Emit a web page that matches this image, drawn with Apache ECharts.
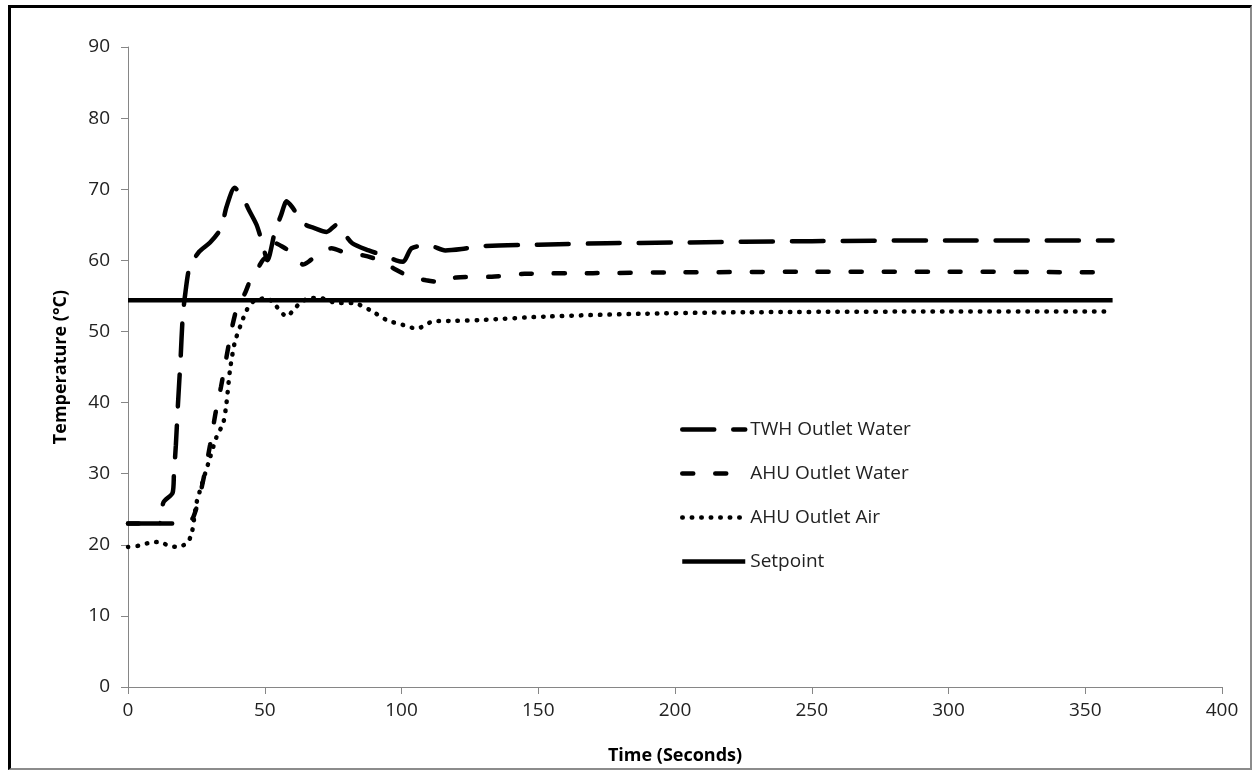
<!DOCTYPE html>
<html>
<head>
<meta charset="utf-8">
<script src="https://cdn.jsdelivr.net/npm/echarts@6/dist/echarts.min.js"></script>
<style>
    body { margin: 0; background: #fff; }
    #chart { position: absolute; left: 0; top: 0; width: 1257px; height: 774px; }
    #frame {
        position: absolute; left: 8px; top: 5px; width: 1244px; height: 765px;
        border-left: 3px solid #000; border-top: 3px solid #000;
        border-right: 2px solid #8c8c8c; border-bottom: 2px solid #8c8c8c;
        box-sizing: border-box; pointer-events: none;
    }
</style>
</head>
<body>
<div id="chart"></div>
<div id="frame"></div>
<script>
// TWH outlet water (long dash)
var twhTime = [0, 11.5, 12, 13, 16.3, 16.8, 17.5, 18.3, 19.2, 20, 21, 22.5, 26, 30, 34, 36, 39, 41.6, 44.6, 47, 49, 51, 53.7, 56, 58, 60, 62.3, 65, 67.7, 72.6, 76.3, 78.6, 82, 88, 94, 98, 100.6, 103.7, 110, 116, 122, 129, 150, 175, 200, 250, 300, 360];
var twhTemp = [23, 23, 23.8, 26, 27.3, 30, 34, 40, 46, 52, 55.5, 59, 61.2, 62.5, 64.5, 67.5, 70.2, 69, 66.8, 65, 62.6, 60, 64, 66.4, 68.3, 67.5, 66.2, 65, 64.6, 64, 65, 64, 62.4, 61.4, 60.6, 60, 59.8, 61.7, 62.1, 61.4, 61.6, 62, 62.2, 62.4, 62.5, 62.7, 62.8, 62.8];

// AHU outlet water (dash)
var ahuWaterTime = [0, 20, 22.5, 24, 26, 28, 30, 32, 34, 36, 38, 40, 42.8, 45, 47.5, 50, 51, 54, 57, 59.8, 62, 64, 66, 69, 74.4, 80, 86, 92, 97, 103, 109, 115, 120, 133, 145, 170, 200, 250, 300, 360];
var ahuWaterTemp = [23, 23, 23.2, 24, 26.5, 30, 34, 38.5, 42.2, 46.4, 50.5, 53.5, 55.4, 57.5, 58.9, 60.3, 60, 62.4, 61.8, 61.1, 60.2, 59.4, 59.8, 60.7, 61.7, 61, 60.7, 60, 58.9, 57.7, 57.2, 56.9, 57.6, 57.7, 58.1, 58.2, 58.3, 58.4, 58.4, 58.3];

// AHU outlet air (dotted)
var ahuAirTime = [0, 4.4, 8, 11.7, 14.6, 17.8, 21.5, 23.3, 25, 27, 29.4, 32.4, 34.8, 36, 37.3, 39, 41, 43.4, 45.8, 50.7, 54.3, 58, 60.5, 62.9, 66.5, 70.2, 76.3, 82.3, 88.5, 94.6, 100.6, 105.6, 111.5, 120, 128.7, 153, 189.6, 226, 300, 360];
var ahuAirTemp = [19.7, 19.9, 20.3, 20.4, 19.9, 19.7, 20.2, 21.6, 25.8, 28.5, 31.5, 35.2, 37.1, 39.9, 44.6, 48.4, 50.7, 53, 54.2, 54.7, 53.5, 52.1, 53, 54, 54.7, 54.7, 54, 54, 53, 51.6, 50.9, 50.4, 51.4, 51.5, 51.6, 52.1, 52.5, 52.7, 52.8, 52.8];

// setpoint (solid)
var setTime = [0, 360];
var setTemp = [54.4, 54.4];

var seriesNames = ['TWH Outlet Water', 'AHU Outlet Water', 'AHU Outlet Air', 'Setpoint'];

function pairs(xs, ys) {
    return xs.map(function (x, i) { return [x, ys[i]]; });
}

var myChart = echarts.init(document.getElementById('chart'));
var font = '"Open Sans", sans-serif';

var option = {
    animation: false,
    grid: { left: 128, right: 35, top: 47, bottom: 87 },
    legend: {
        orient: 'vertical',
        left: 680,
        top: 420,
        padding: 0,
        itemWidth: 63,
        itemHeight: 14,
        itemGap: 25,
        data: seriesNames,
        lineStyle: { width: 4.5 },
        itemStyle: { opacity: 0 },
        textStyle: { fontFamily: font, fontSize: 19, color: '#222' }
    },
    xAxis: {
        type: 'value',
        min: 0,
        max: 400,
        interval: 50,
        name: 'Time (Seconds)',
        nameLocation: 'middle',
        nameGap: 60,
        nameTextStyle: { fontFamily: font, fontSize: 18, fontWeight: 'bold', color: '#000' },
        axisLine: { lineStyle: { color: '#868686', width: 1 } },
        axisTick: { length: 7, lineStyle: { color: '#868686' } },
        axisLabel: { fontFamily: font, fontSize: 19, color: '#222', margin: 14 },
        splitLine: { show: false }
    },
    yAxis: {
        type: 'value',
        min: 0,
        max: 90,
        interval: 10,
        name: 'Temperature (°C)',
        nameLocation: 'middle',
        nameGap: 58,
        nameTextStyle: { fontFamily: font, fontSize: 18, fontWeight: 'bold', color: '#000' },
        axisLine: { show: true, lineStyle: { color: '#868686', width: 1 } },
        axisTick: { show: true, length: 7, lineStyle: { color: '#868686' } },
        axisLabel: { fontFamily: font, fontSize: 19, color: '#222', margin: 18 },
        splitLine: { show: false }
    },
    series: [{
        name: seriesNames[0],
        type: 'line',
        data: pairs(twhTime, twhTemp),
        smooth: 0.25,
        symbol: 'none',
        lineStyle: { color: '#000', width: 4.5, type: [32, 19], cap: 'round' },
        itemStyle: { color: '#000' }
    }, {
        name: seriesNames[1],
        type: 'line',
        data: pairs(ahuWaterTime, ahuWaterTemp),
        smooth: 0.25,
        symbol: 'none',
        lineStyle: { color: '#000', width: 4.5, type: [11, 22], cap: 'round' },
        itemStyle: { color: '#000' }
    }, {
        name: seriesNames[2],
        type: 'line',
        data: pairs(ahuAirTime, ahuAirTemp),
        smooth: 0.25,
        symbol: 'none',
        lineStyle: { color: '#000', width: 4.5, type: [0.5, 9], cap: 'round' },
        itemStyle: { color: '#000' }
    }, {
        name: seriesNames[3],
        type: 'line',
        data: pairs(setTime, setTemp),
        symbol: 'none',
        lineStyle: { color: '#000', width: 4.5, type: 'solid' },
        itemStyle: { color: '#000' }
    }]
};

option && myChart.setOption(option);
</script>
</body>
</html>
